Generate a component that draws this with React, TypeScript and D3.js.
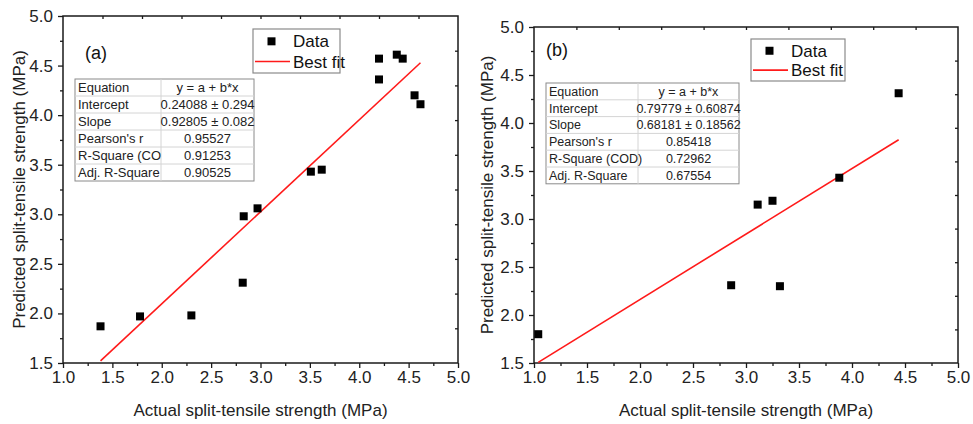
import React, { useEffect, useRef } from "react";
import * as d3 from "d3";

// panel (a)
const aActual = [1.38, 1.78, 2.30, 2.82, 2.83, 2.97, 3.51, 3.62, 4.20, 4.20, 4.38, 4.44, 4.56, 4.62];
const aPredicted = [1.87, 1.97, 1.98, 2.31, 2.98, 3.06, 3.43, 3.45, 4.57, 4.36, 4.61, 4.57, 4.20, 4.11];
const aFit = { intercept: 0.24088, slope: 0.92805 };
const aTableLabels = ["Equation", "Intercept", "Slope", "Pearson's r", "R-Square (CO", "Adj. R-Square"];
const aTableValues = ["y = a + b*x", "0.24088 ± 0.294", "0.92805 ± 0.082", "0.95527", "0.91253", "0.90525"];

// panel (b)
const bActual = [1.04, 2.86, 3.11, 3.25, 3.32, 3.88, 4.44];
const bPredicted = [1.80, 2.31, 3.15, 3.19, 2.30, 3.43, 4.31];
const bFit = { intercept: 0.79779, slope: 0.68181 };
const bTableLabels = ["Equation", "Intercept", "Slope", "Pearson's r", "R-Square (COD)", "Adj. R-Square"];
const bTableValues = ["y = a + b*x", "0.79779 ± 0.60874", "0.68181 ± 0.18562", "0.85418", "0.72962", "0.67554"];

const xMajor = [1.0, 1.5, 2.0, 2.5, 3.0, 3.5, 4.0, 4.5, 5.0];
const yMajor = [1.5, 2.0, 2.5, 3.0, 3.5, 4.0, 4.5, 5.0];

const FONT = "Arial, 'Liberation Sans', sans-serif";
const AXIS = "#1a1a1a";

type PanelProps = {
  g: d3.Selection<SVGGElement, unknown, null, undefined>;
  left: number;
  top: number;
  width: number;
  height: number;
  actual: number[];
  predicted: number[];
  fit: { intercept: number; slope: number };
  tag: string;
  tagPos: [number, number];
  legend: { x: number; y: number; w: number; h: number };
  table: { x: number; y: number; w: number; split: number; rowH: number; font: number };
  labels: string[];
  values: string[];
  yTitleX: number;
};

function drawPanel(p: PanelProps) {
  const svg = p.g.append("g").attr("transform", "translate(" + p.left + "," + p.top + ")");

  const x = d3.scaleLinear().domain([1, 5]).range([0, p.width]);
  const y = d3.scaleLinear().domain([1.5, 5]).range([p.height, 0]);

  // minor ticks
  const xMinor = d3.range(1.25, 5, 0.5);
  const yMinor = d3.range(1.75, 5, 0.5);

  svg.append("g")
    .attr("transform", "translate(0," + p.height + ")")
    .call(d3.axisBottom(x).tickValues(xMinor).tickSize(3).tickFormat(() => ""))
    .call((s) => s.select(".domain").remove());
  svg.append("g")
    .call(d3.axisLeft(y).tickValues(yMinor).tickSize(3).tickFormat(() => ""))
    .call((s) => s.select(".domain").remove());

  // major ticks + labels
  svg.append("g")
    .attr("class", "x axis")
    .attr("transform", "translate(0," + p.height + ")")
    .call(d3.axisBottom(x).tickValues(xMajor).tickSize(5).tickPadding(3).tickFormat(d3.format(".1f")))
    .call((s) => s.select(".domain").remove());
  svg.append("g")
    .attr("class", "y axis")
    .call(d3.axisLeft(y).tickValues(yMajor).tickSize(5).tickPadding(5).tickFormat(d3.format(".1f")))
    .call((s) => s.select(".domain").remove());

  // top / right axes: ten inward divisions
  const xTop = d3.scaleLinear().domain([0, 10]).range([0, p.width]);
  const yRight = d3.scaleLinear().domain([0, 10]).range([p.height, 0]);
  svg.append("g")
    .call(d3.axisBottom(xTop).tickValues(d3.range(1, 10)).tickSize(3).tickFormat(() => ""))
    .call((s) => s.select(".domain").remove());
  svg.append("g")
    .attr("transform", "translate(" + p.width + ",0)")
    .call(d3.axisLeft(yRight).tickValues(d3.range(1, 10)).tickSize(3).tickFormat(() => ""))
    .call((s) => s.select(".domain").remove());

  svg.selectAll(".tick line").attr("stroke", AXIS).attr("stroke-width", 1.3);
  svg.selectAll(".tick text")
    .attr("font-family", FONT)
    .attr("font-size", 17)
    .attr("fill", "#222");

  svg.append("rect")
    .attr("width", p.width)
    .attr("height", p.height)
    .attr("fill", "none")
    .attr("stroke", AXIS)
    .attr("stroke-width", 1.5);

  // axis titles
  svg.append("text")
    .attr("text-anchor", "middle")
    .attr("transform", "rotate(-90)")
    .attr("x", -p.height / 2)
    .attr("y", p.yTitleX - p.left)
    .attr("dy", "0.35em")
    .attr("font-family", FONT)
    .attr("font-size", 17)
    .attr("fill", "#222")
    .text("Predicted split-tensile strength (MPa)");

  svg.append("text")
    .attr("text-anchor", "middle")
    .attr("x", p.width / 2)
    .attr("y", 410 - p.top)
    .attr("dy", "0.35em")
    .attr("font-family", FONT)
    .attr("font-size", 17)
    .attr("fill", "#222")
    .text("Actual split-tensile strength (MPa)");

  // tag
  svg.append("text")
    .attr("x", p.tagPos[0] - p.left)
    .attr("y", p.tagPos[1] - p.top)
    .attr("dy", "0.35em")
    .attr("font-family", FONT)
    .attr("font-size", 18)
    .attr("fill", "#111")
    .text(p.tag);

  // table
  const t = p.table;
  const tg = svg.append("g").attr("transform", "translate(" + (t.x - p.left) + "," + (t.y - p.top) + ")");
  const rows = p.labels.length;
  tg.append("rect")
    .attr("width", t.w)
    .attr("height", rows * t.rowH)
    .attr("fill", "#fff")
    .attr("stroke", "#8a8a8a")
    .attr("stroke-width", 1);
  tg.selectAll(".hline")
    .data(d3.range(1, rows))
    .enter().append("line")
    .attr("x1", 0)
    .attr("x2", t.w)
    .attr("y1", (i) => i * t.rowH)
    .attr("y2", (i) => i * t.rowH)
    .attr("stroke", "#d4d4d4");
  tg.append("line")
    .attr("x1", t.split)
    .attr("x2", t.split)
    .attr("y1", 0)
    .attr("y2", rows * t.rowH)
    .attr("stroke", "#d4d4d4");
  tg.selectAll(".lbl")
    .data(p.labels)
    .enter().append("text")
    .attr("x", 3)
    .attr("y", (d, i) => (i + 0.5) * t.rowH)
    .attr("dy", "0.35em")
    .attr("font-family", FONT)
    .attr("font-size", t.font)
    .attr("fill", "#222")
    .text((d) => d);
  tg.selectAll(".val")
    .data(p.values)
    .enter().append("text")
    .attr("x", (t.split + t.w) / 2)
    .attr("y", (d, i) => (i + 0.5) * t.rowH)
    .attr("dy", "0.35em")
    .attr("text-anchor", "middle")
    .attr("font-family", FONT)
    .attr("font-size", t.font)
    .attr("fill", "#222")
    .text((d) => d);

  // fit line over the data range
  const x0 = d3.min(p.actual) as number;
  const x1 = d3.max(p.actual) as number;
  const line = d3.line<number>()
    .x((d) => x(d))
    .y((d) => y(p.fit.intercept + p.fit.slope * d));
  svg.append("path")
    .datum([x0, x1])
    .attr("d", line)
    .attr("stroke", "#ff1a1a")
    .attr("stroke-width", 1.6)
    .attr("fill", "none");

  // points
  const sz = 8;
  svg.selectAll(".pt")
    .data(p.actual)
    .enter().append("rect")
    .attr("x", (d) => x(d) - sz / 2)
    .attr("y", (d, i) => y(p.predicted[i]) - sz / 2)
    .attr("width", sz)
    .attr("height", sz)
    .attr("fill", "#000");

  // legend
  const L = p.legend;
  const lg = svg.append("g").attr("transform", "translate(" + (L.x - p.left) + "," + (L.y - p.top) + ")");
  lg.append("rect")
    .attr("width", L.w)
    .attr("height", L.h)
    .attr("fill", "#fff")
    .attr("stroke", "#8a8a8a")
    .attr("stroke-width", 1.2);
  lg.append("rect")
    .attr("x", 18.5 - sz / 2)
    .attr("y", L.h * 0.28 - sz / 2)
    .attr("width", sz)
    .attr("height", sz)
    .attr("fill", "#000");
  lg.append("line")
    .attr("x1", 2)
    .attr("x2", 37)
    .attr("y1", L.h * 0.74)
    .attr("y2", L.h * 0.74)
    .attr("stroke", "#ff1a1a")
    .attr("stroke-width", 1.6);
  lg.append("text")
    .attr("x", 40)
    .attr("y", L.h * 0.28)
    .attr("dy", "0.35em")
    .attr("font-family", FONT)
    .attr("font-size", 17)
    .attr("fill", "#111")
    .text("Data");
  lg.append("text")
    .attr("x", 40)
    .attr("y", L.h * 0.74)
    .attr("dy", "0.35em")
    .attr("font-family", FONT)
    .attr("font-size", 17)
    .attr("fill", "#111")
    .text("Best fit");
}

export default function App() {
  const ref = useRef<SVGSVGElement>(null);

  useEffect(() => {
    const root = d3.select(ref.current);
    root.selectAll("*").remove();
    const g = root.append("g") as d3.Selection<SVGGElement, unknown, null, undefined>;

    drawPanel({
      g, left: 63, top: 16, width: 395, height: 347,
      actual: aActual, predicted: aPredicted, fit: aFit,
      tag: "(a)", tagPos: [85, 53],
      legend: { x: 253, y: 29, w: 87, h: 44 },
      table: { x: 75, y: 79, w: 179, split: 86, rowH: 17, font: 13 },
      labels: aTableLabels, values: aTableValues,
      yTitleX: 19,
    });

    drawPanel({
      g, left: 534, top: 27, width: 424, height: 336,
      actual: bActual, predicted: bPredicted, fit: bFit,
      tag: "(b)", tagPos: [546, 50],
      legend: { x: 751, y: 39, w: 94, h: 42 },
      table: { x: 546, y: 83, w: 193, split: 92, rowH: 16.8, font: 12.5 },
      labels: bTableLabels, values: bTableValues,
      yTitleX: 487,
    });
  }, []);

  return (
    <svg
      ref={ref}
      width={973}
      height={424}
      style={{ position: "absolute", left: 0, top: 0, background: "#fff" }}
    />
  );
}
